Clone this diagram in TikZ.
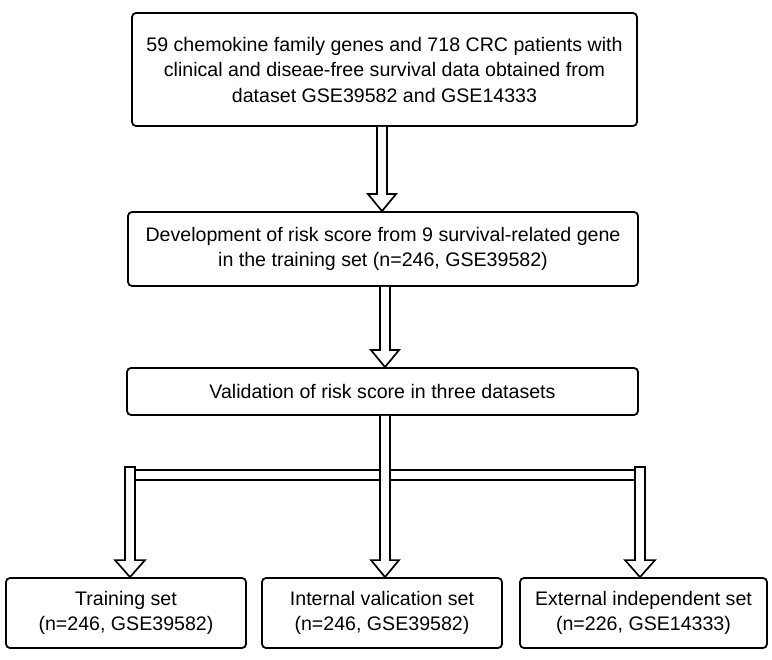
\documentclass[tikz,border=0pt]{standalone}
\usepackage{fontspec}
\setmainfont{Liberation Sans}
\usetikzlibrary{calc}
\begin{document}
\begin{tikzpicture}[x=1pt,y=-1pt,
  box/.style={draw, line width=1.8pt, rounded corners=4pt, align=center, inner sep=0pt,
    font=\fontsize{19.6}{25.5}\selectfont},
  blockarrow/.style={draw, line width=1.7pt, fill=white, line join=miter},
  barline/.style={line width=1.7pt}]
\useasboundingbox[fill=white] (0,0) rectangle (772,660);
% boxes
\node[box, minimum width=505pt, minimum height=113pt] (b1) at (384.5,69.5)
  {59 chemokine family genes and 718 CRC patients with\\
   clinical and diseae-free survival data obtained from\\
   dataset GSE39582 and GSE14333};
\node[box, minimum width=510pt, minimum height=74pt] (b2) at (383,249)
  {Development of risk score from 9 survival-related gene\\
   in the training set (n=246, GSE39582)};
\node[box, minimum width=511pt, minimum height=47pt] (b3) at (382.5,391.5)
  {Validation of risk score in three datasets};
\node[box, minimum width=240pt, minimum height=70pt] (bA) at (126,613)
  {Training set\\(n=246, GSE39582)};
\node[box, minimum width=240pt, minimum height=70pt] (bB) at (382,613)
  {Internal valication set\\(n=246, GSE39582)};
\node[box, minimum width=247pt, minimum height=70pt] (bC) at (643.5,613)
  {External independent set\\(n=226, GSE14333)};
% arrow anchor coordinates
\coordinate (a1s) at ($(b1.south)+(-2.5,0)$);
\coordinate (a1t) at ($(b2.north)+(-1,0)$);
\coordinate (a2s) at ($(b2.south)+(2,0)$);
\coordinate (a2t) at ($(b3.north)+(2.5,0)$);
\coordinate (a3s) at ($(b3.south)+(2.5,0)$);
\coordinate (a3t) at ($(bB.north)+(3,0)$);
\coordinate (aLt) at ($(bA.north)+(4,0)$);
\coordinate (aLs) at ($(aLt)+(0,-110)$);
\coordinate (aRt) at ($(bC.north)+(-3.5,0)$);
\coordinate (aRs) at ($(aRt)+(0,-110)$);
% hollow block arrows: shaft half width 5, head half width 14, head length 17
\foreach \s/\t in {a1s/a1t, a2s/a2t}{
  \draw[blockarrow] ($(\s)+(-5,0)$) -- ($(\t)+(-5,-17)$) -- ($(\t)+(-14,-17)$) -- (\t)
    -- ($(\t)+(14,-17)$) -- ($(\t)+(5,-17)$) -- ($(\s)+(5,0)$);
}
\draw[blockarrow] ($(a3s)+(-5,0)$) -- ($(a3t)+(-5,-17)$) -- ($(a3t)+(-14,-17)$) -- (a3t)
    -- ($(a3t)+(14,-17)$) -- ($(a3t)+(5,-17)$) -- ($(a3s)+(5,0)$);
\foreach \s/\t in {aLs/aLt, aRs/aRt}{
  \draw[blockarrow] ($(\s)+(-5,0)$) -- ($(\t)+(-5,-17)$) -- ($(\t)+(-15,-17)$) -- (\t)
    -- ($(\t)+(15,-17)$) -- ($(\t)+(5,-17)$) -- ($(\s)+(5,0)$) -- cycle;
}
% horizontal bar joining the three arrows
\draw[barline] ($(aLs)+(5,3)$) -- ($(a3s |- aLs)+(-5,3)$);
\draw[barline] ($(aLs)+(5,13)$) -- ($(a3s |- aLs)+(-5,13)$);
\draw[barline] ($(a3s |- aRs)+(5,3)$) -- ($(aRs)+(-5,3)$);
\draw[barline] ($(a3s |- aRs)+(5,13)$) -- ($(aRs)+(-5,13)$);
\end{tikzpicture}
\end{document}
